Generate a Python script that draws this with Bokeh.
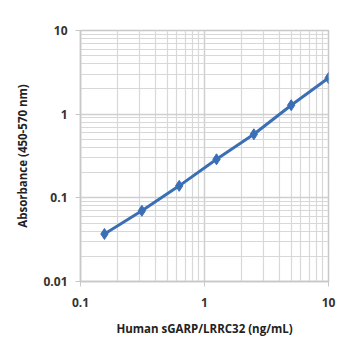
from bokeh.plotting import figure
from bokeh.models import FixedTicker
from bokeh.embed import file_html
from bokeh.resources import INLINE

conc = [0.156, 0.3125, 0.625, 1.25, 2.5, 5, 10]
absorb = [0.037, 0.07, 0.139, 0.289, 0.575, 1.28, 2.7]
x_ticks = [0.1, 1, 10]
y_ticks = [0.01, 0.1, 1, 10]

def minors(lo, hi):
    out = []
    d = lo
    while d < hi:
        out += [d * k for k in range(2, 10)]
        d *= 10
    return out

p = figure(width=358, height=358, x_axis_type="log", y_axis_type="log",
           x_range=(0.1, 10), y_range=(0.01, 10),
           output_backend="svg", toolbar_location=None,
           min_border_left=80, min_border_right=30, min_border_top=30, min_border_bottom=77)
p.outline_line_color = "#c8c8c8"
p.outline_line_width = 1.5

p.xaxis.ticker = FixedTicker(ticks=x_ticks, minor_ticks=minors(0.1, 10))
p.yaxis.ticker = FixedTicker(ticks=y_ticks, minor_ticks=minors(0.01, 10))
p.xaxis.major_label_overrides = {t: str(t) if t < 1 else str(int(t)) for t in x_ticks}
p.yaxis.major_label_overrides = {t: str(t) if t < 1 else str(int(t)) for t in y_ticks}

for ax in (p.xaxis[0], p.yaxis[0]):
    ax.axis_line_color = "#c8c8c8"
    ax.axis_line_width = 1.5
    ax.major_tick_line_color = "#c8c8c8"
    ax.major_tick_out = 5
    ax.major_tick_in = 0
    ax.minor_tick_line_color = None
    ax.major_label_text_font = "Open Sans"
    ax.major_label_text_font_size = "12px"
    ax.major_label_text_font_style = "bold"
    ax.major_label_text_color = "#333333"
    ax.axis_label_text_font = "Open Sans"
    ax.axis_label_text_font_size = "11.5px"
    ax.axis_label_text_font_style = "bold"
    ax.axis_label_text_color = "#222222"

p.xaxis.major_label_standoff = 11
p.yaxis.major_label_standoff = 8
p.xaxis.axis_label = "Human sGARP/LRRC32 (ng/mL)"
p.yaxis.axis_label = "Absorbance (450-570 nm)"
p.xaxis.axis_label_standoff = 11
p.yaxis.axis_label_standoff = 10

for g in (p.xgrid[0], p.ygrid[0]):
    g.grid_line_color = "#cfcfcf"
    g.grid_line_width = 1.5
    g.minor_grid_line_color = "#d8d8d8"
    g.minor_grid_line_width = 1.2

p.line(conc, absorb, line_color="#3a6fb5", line_width=3)
p.scatter(conc, absorb, marker="diamond", size=11, fill_color="#3a6fb5", line_color="#3a6fb5")

open("out.html", "w").write(file_html(p, INLINE))
